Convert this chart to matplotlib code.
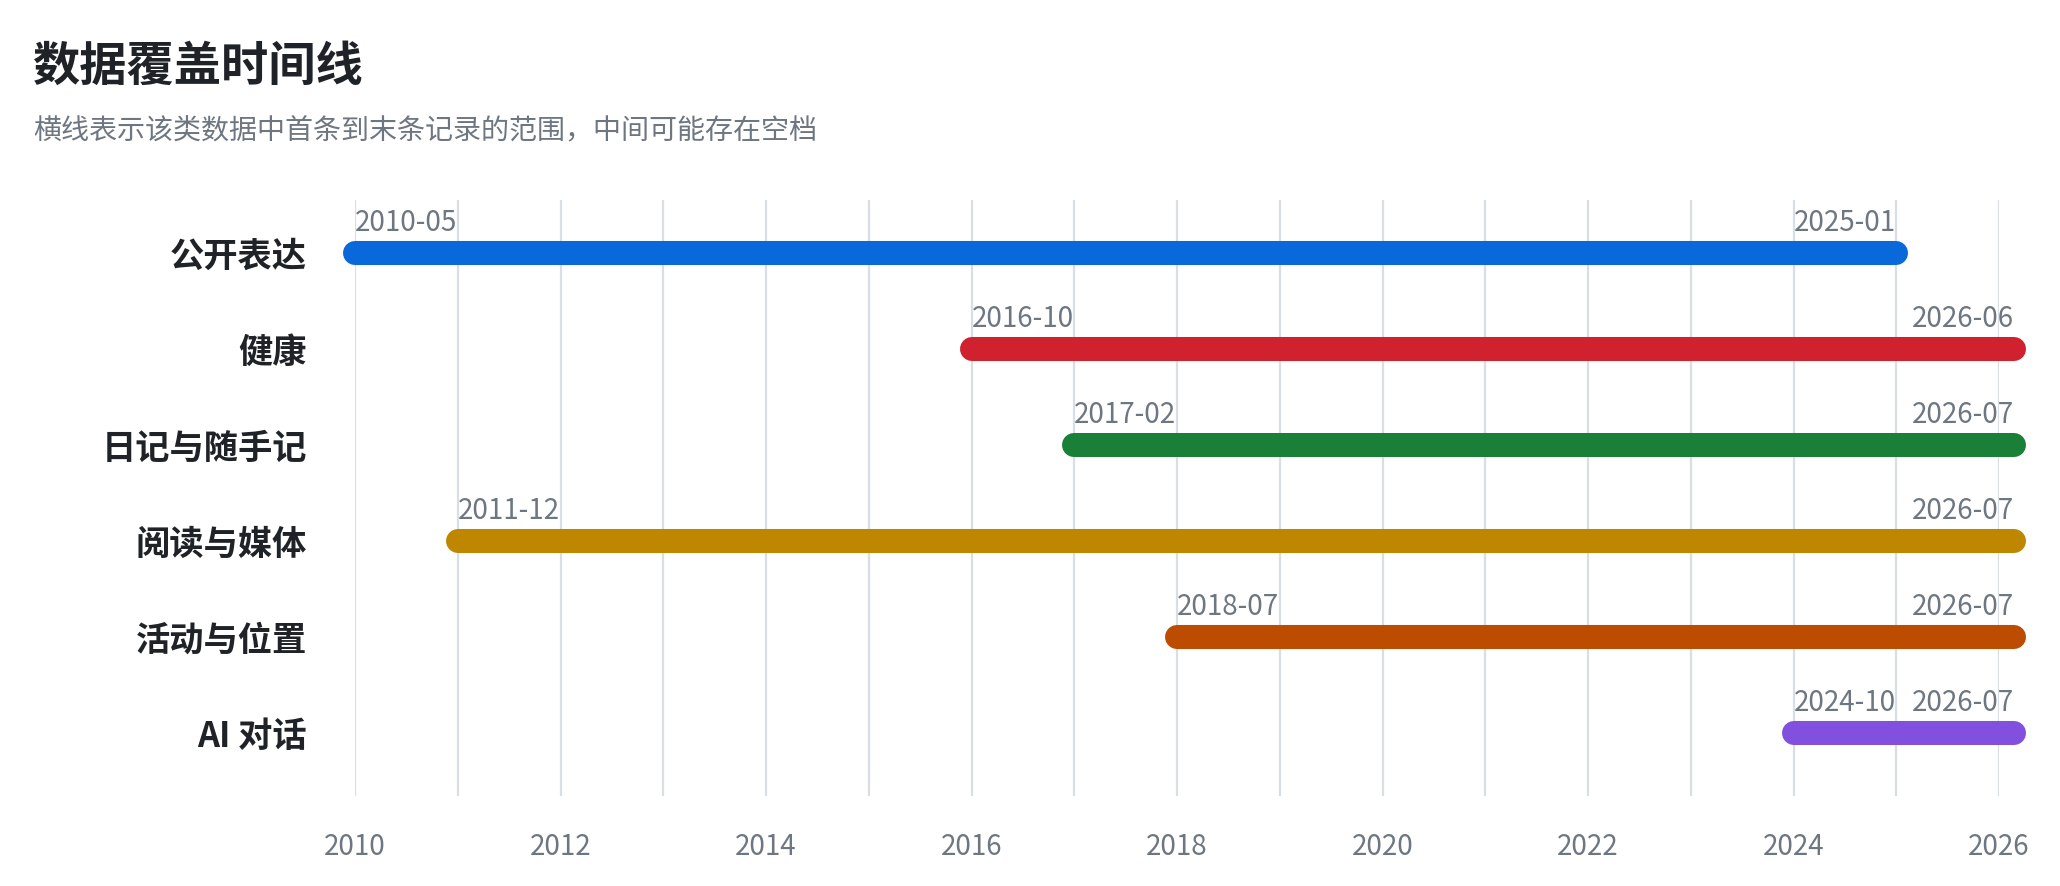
import matplotlib.pyplot as plt

plt.rcParams['font.family'] = ['Noto Sans CJK SC', 'DejaVu Sans']

# data
categories = ['公开表达', '健康', '日记与随手记', '阅读与媒体', '活动与位置', 'AI 对话']
start_labels = ['2010-05', '2016-10', '2017-02', '2011-12', '2018-07', '2024-10']
end_labels = ['2025-01', '2026-06', '2026-07', '2026-07', '2026-07', '2026-07']
starts = [2010, 2016, 2017, 2011, 2018, 2024]
ends = [2025, 2026.15, 2026.15, 2026.15, 2026.15, 2026.15]
colors = ['#0969da', '#cf222e', '#1a7f37', '#bf8700', '#bc4c00', '#8250df']

title = '数据覆盖时间线'
subtitle = '横线表示该类数据中首条到末条记录的范围，中间可能存在空档'

W, H = 2060, 886
fig = plt.figure(figsize=(W / 100, H / 100), dpi=100)
ax = fig.add_axes([355 / W, 1 - 796 / H, (1999 - 355) / W, 596 / H])

muted = '#6e7781'
dark = '#1f2328'

for i in range(len(categories)):
    ax.plot([starts[i], ends[i]], [i, i], color=colors[i], lw=17.3,
            solid_capstyle='round', clip_on=False, zorder=3)
    ax.annotate(start_labels[i], (starts[i], i), xytext=(0, 16),
                textcoords='offset points', ha='left', va='baseline',
                fontsize=20, color=muted, annotation_clip=False)
    ax.annotate(end_labels[i], (ends[i], i), xytext=(0, 16),
                textcoords='offset points', ha='right', va='baseline',
                fontsize=20, color=muted, annotation_clip=False)

ax.set_xlim(2010, 2026)
ax.set_ylim(5 + 63 / 96, -53 / 96)
ax.set_xticks(range(2010, 2027, 2))
ax.set_xticks(range(2010, 2027), minor=True)
ax.set_yticks(range(len(categories)))
ax.set_yticklabels(categories, fontsize=24.7, fontweight='bold', color=dark)
ax.tick_params(axis='x', which='both', length=0, pad=26, labelsize=20, labelcolor=muted)
ax.tick_params(axis='y', length=0, pad=34.5)
ax.grid(axis='x', which='both', color='#d8dee4', lw=1.6, zorder=0)
ax.set_axisbelow(True)
for sp in ax.spines.values():
    sp.set_visible(False)

fig.text(33 / W, 1 - 67 / H, title, fontsize=34, fontweight='bold', color=dark, va='center')
fig.text(33 / W, 1 - 131 / H, subtitle, fontsize=20.2, color=muted, va='center')

fig.savefig('out.png', dpi=100, facecolor='white')
